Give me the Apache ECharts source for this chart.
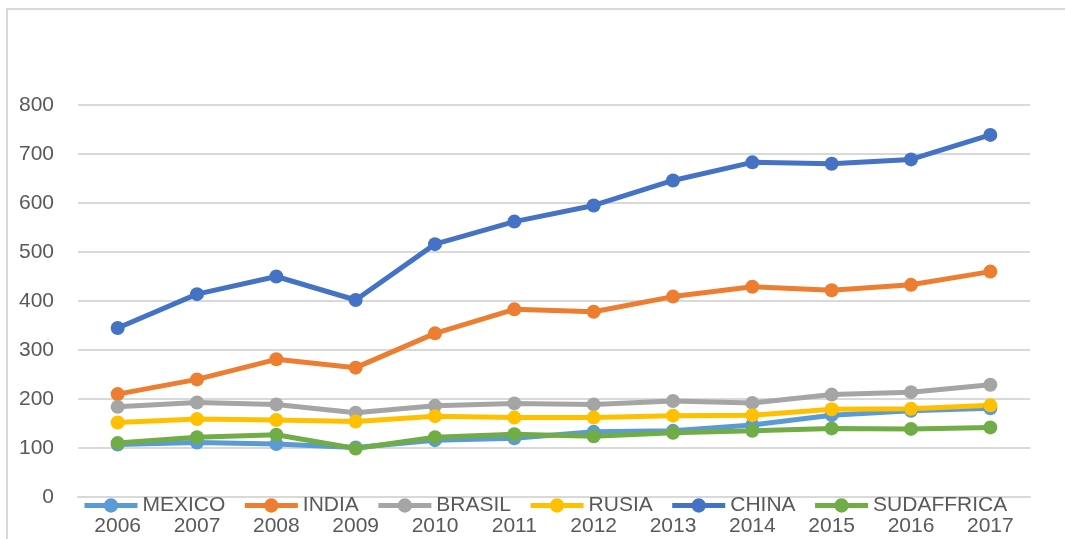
<!DOCTYPE html>
<html>
<head>
<meta charset="utf-8">
<script src="https://cdn.jsdelivr.net/npm/echarts@6/dist/echarts.min.js"></script>
<style>
  html, body { margin: 0; padding: 0; background: #fff; }
  #chart { width: 1065px; height: 539px; }
</style>
</head>
<body>
<div id="chart"></div>
<script>
const years = ['2006', '2007', '2008', '2009', '2010', '2011', '2012', '2013', '2014', '2015', '2016', '2017'];

const mexico = [107, 111, 108, 101, 116, 120, 133, 135, 147, 167, 176, 181];
const india = [210, 240, 281, 264, 334, 383, 378, 409, 429, 422, 433, 460];
const brasil = [184, 193, 189, 172, 186, 191, 189, 196, 192, 209, 214, 229];
const rusia = [152, 159, 157, 154, 165, 162, 162, 166, 167, 179, 180, 187];
const china = [345, 414, 450, 402, 516, 562, 595, 646, 683, 680, 689, 739];
const sudaffrica = [110, 122, 127, 99, 122, 128, 124, 131, 135, 140, 139, 142];

const colors = {
  MEXICO: '#5b9bd5',
  INDIA: '#ed7d31',
  BRASIL: '#a5a5a5',
  RUSIA: '#ffc000',
  CHINA: '#4472c4',
  SUDAFFRICA: '#70ad47'
};

const textColor = '#595959';
const gridColor = '#d9d9d9';

function makeSeries(name, data) {
  return {
    name: name,
    type: 'line',
    data: data,
    symbol: 'circle',
    symbolSize: 14,
    lineStyle: { color: colors[name], width: 5 },
    itemStyle: { color: colors[name] },
    emphasis: { disabled: true }
  };
}

const chart = echarts.init(document.getElementById('chart'));

chart.setOption({
  animation: false,
  graphic: [
    {
      type: 'rect',
      shape: { x: 7, y: 9, width: 1200, height: 700 },
      style: { fill: 'none', stroke: gridColor, lineWidth: 2 },
      silent: true
    }
  ],
  grid: {
    left: 78,
    right: 35,
    top: 105,
    bottom: 42
  },
  legend: {
    left: 77,
    top: 490,
    itemWidth: 53,
    itemHeight: 18,
    itemGap: 17,
    lineStyle: { width: 5 },
    textStyle: {
      color: textColor,
      fontSize: 21,
      fontFamily: '"Liberation Sans Narrow", "Liberation Sans", sans-serif'
    },
    data: ['MEXICO', 'INDIA', 'BRASIL', 'RUSIA', 'CHINA', 'SUDAFFRICA']
  },
  xAxis: {
    type: 'category',
    data: years,
    boundaryGap: true,
    axisLine: { lineStyle: { color: gridColor, width: 2 } },
    axisTick: { show: false },
    axisLabel: {
      color: textColor,
      fontSize: 21,
      margin: 19,
      fontFamily: '"Liberation Sans", sans-serif'
    }
  },
  yAxis: {
    type: 'value',
    min: 0,
    max: 800,
    interval: 100,
    axisLine: { show: false },
    axisTick: { show: false },
    axisLabel: {
      color: textColor,
      fontSize: 21,
      margin: 24,
      fontFamily: '"Liberation Sans", sans-serif'
    },
    splitLine: { lineStyle: { color: gridColor, width: 2 } }
  },
  series: [
    makeSeries('MEXICO', mexico),
    makeSeries('INDIA', india),
    makeSeries('BRASIL', brasil),
    makeSeries('RUSIA', rusia),
    makeSeries('CHINA', china),
    makeSeries('SUDAFFRICA', sudaffrica)
  ]
});
</script>
</body>
</html>
